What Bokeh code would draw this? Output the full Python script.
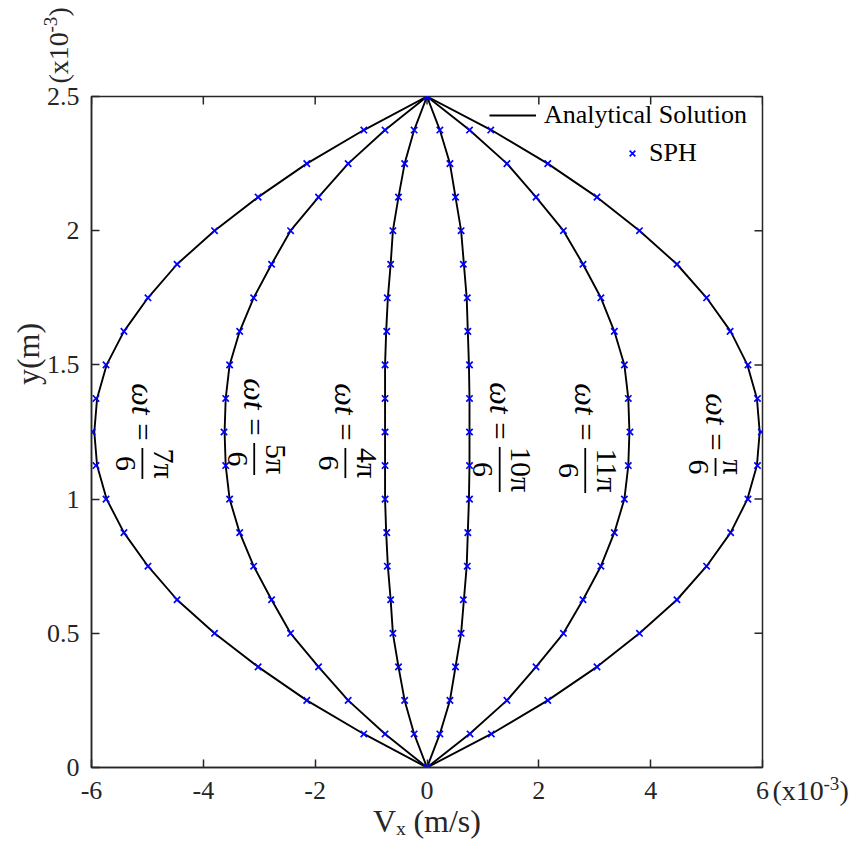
import numpy as np
from bokeh.plotting import figure
from bokeh.models import (Range1d, FixedTicker, Label, Legend,
                          LegendItem, CustomJSTickFormatter)
from bokeh.embed import file_html
from bokeh.resources import INLINE

# ---------------------------------------------------------------------------
# Data: velocity profiles across the channel (y in 1e-3 m, Vx in 1e-3 m/s)
# ---------------------------------------------------------------------------
y_nodes = [0.0, 0.125, 0.25, 0.375, 0.5, 0.625, 0.75, 0.875, 1.0, 1.125, 1.25,
           1.375, 1.5, 1.625, 1.75, 1.875, 2.0, 2.125, 2.25, 2.375, 2.5]

phases = ["π/6", "4π/6", "5π/6", "7π/6", "10π/6", "11π/6"]

# analytical solution
ana_pi6 = [0, 1.15, 2.16, 3.04, 3.80, 4.47, 5.00, 5.43, 5.73, 5.90, 5.95,
           5.90, 5.73, 5.43, 5.00, 4.47, 3.80, 3.04, 2.16, 1.15, 0]
ana_4pi6 = [0, -0.23, -0.40, -0.51, -0.61, -0.65, -0.70, -0.73, -0.75, -0.75, -0.75,
            -0.75, -0.75, -0.73, -0.70, -0.65, -0.61, -0.51, -0.40, -0.23, 0]
ana_5pi6 = [0, -0.75, -1.41, -1.94, -2.44, -2.78, -3.10, -3.35, -3.53, -3.60, -3.62,
            -3.60, -3.53, -3.35, -3.10, -2.78, -2.44, -1.94, -1.41, -0.75, 0]
ana_7pi6 = [0, -1.13, -2.15, -3.02, -3.80, -4.47, -4.99, -5.42, -5.73, -5.90, -5.95,
            -5.90, -5.73, -5.42, -4.99, -4.47, -3.80, -3.02, -2.15, -1.13, 0]
ana_10pi6 = [0, 0.23, 0.41, 0.51, 0.61, 0.66, 0.71, 0.73, 0.75, 0.76, 0.76,
             0.76, 0.75, 0.73, 0.71, 0.66, 0.61, 0.51, 0.41, 0.23, 0]
ana_11pi6 = [0, 0.76, 1.43, 1.95, 2.44, 2.79, 3.11, 3.35, 3.53, 3.60, 3.62,
             3.60, 3.53, 3.35, 3.11, 2.79, 2.44, 1.95, 1.43, 0.76, 0]

# SPH particles
sph_pi6 = [0, 1.15, 2.16, 3.04, 3.80, 4.47, 5.00, 5.43, 5.74, 5.91, 5.98,
           5.91, 5.74, 5.42, 5.00, 4.47, 3.80, 3.04, 2.16, 1.14, 0]
sph_4pi6 = [0, -0.23, -0.40, -0.51, -0.61, -0.65, -0.71, -0.72, -0.75, -0.75, -0.75,
            -0.75, -0.75, -0.72, -0.71, -0.65, -0.61, -0.51, -0.40, -0.23, 0]
sph_5pi6 = [0, -0.75, -1.41, -1.94, -2.44, -2.78, -3.10, -3.35, -3.53, -3.60, -3.63,
            -3.60, -3.53, -3.35, -3.10, -2.78, -2.44, -1.94, -1.41, -0.75, 0]
sph_7pi6 = [0, -1.13, -2.15, -3.02, -3.80, -4.47, -4.99, -5.42, -5.74, -5.92, -5.99,
            -5.92, -5.74, -5.42, -4.99, -4.47, -3.80, -3.02, -2.15, -1.13, 0]
sph_10pi6 = [0, 0.23, 0.41, 0.51, 0.61, 0.65, 0.72, 0.73, 0.76, 0.76, 0.76,
             0.76, 0.76, 0.73, 0.72, 0.65, 0.61, 0.51, 0.41, 0.23, 0]
sph_11pi6 = [0, 0.77, 1.43, 1.95, 2.44, 2.79, 3.11, 3.35, 3.53, 3.60, 3.63,
             3.60, 3.53, 3.35, 3.11, 2.79, 2.44, 1.95, 1.43, 0.76, 0]

analytical = [ana_pi6, ana_4pi6, ana_5pi6, ana_7pi6, ana_10pi6, ana_11pi6]
sph = [sph_pi6, sph_4pi6, sph_5pi6, sph_7pi6, sph_10pi6, sph_11pi6]

x_ticks = [-6, -4, -2, 0, 2, 4, 6]
y_ticks = [0, 0.5, 1, 1.5, 2, 2.5]

# ---------------------------------------------------------------------------
FONT = "Liberation Serif"
AXIS_GREY = "#262626"
FRAME_W, FRAME_H = 671, 671
X_MIN, X_MAX = -6, 6
Y_MIN, Y_MAX = 0, 2.5
PX_PER_X = FRAME_W / (X_MAX - X_MIN)
PX_PER_Y = FRAME_H / (Y_MAX - Y_MIN)
TICK_LEN = 8

p = figure(frame_width=FRAME_W, frame_height=FRAME_H,
           x_range=Range1d(X_MIN, X_MAX), y_range=Range1d(Y_MIN, Y_MAX),
           output_backend="svg", toolbar_location=None,
           min_border_left=91, min_border_right=96,
           min_border_top=96, min_border_bottom=85)
p.grid.visible = False
p.background_fill_color = "white"
p.border_fill_color = "white"
p.outline_line_color = AXIS_GREY
p.outline_line_width = 1.5

fmt = CustomJSTickFormatter(code="return tick.toString();")
for ax, ticks in ((p.xaxis[0], x_ticks), (p.yaxis[0], y_ticks)):
    ax.ticker = FixedTicker(ticks=ticks)
    ax.formatter = fmt
    ax.axis_line_color = AXIS_GREY
    ax.axis_line_width = 1.5
    ax.major_tick_line_color = AXIS_GREY
    ax.major_tick_line_width = 1.5
    ax.major_tick_in = TICK_LEN
    ax.major_tick_out = 0
    ax.minor_tick_line_color = None
    ax.major_label_text_font = FONT
    ax.major_label_text_font_size = "26px"
    ax.major_label_text_color = AXIS_GREY
    ax.major_label_standoff = 12
    ax.axis_label_text_font = FONT
    ax.axis_label_text_font_style = "normal"
    ax.axis_label_text_font_size = "32px"
    ax.axis_label_text_color = AXIS_GREY

p.xaxis.major_label_standoff = 14
p.xaxis.axis_label = "Vₓ (m/s)"
p.xaxis.axis_label_standoff = 1

# mirrored inward ticks on the top and right edges of the box
p.segment(x0=x_ticks, x1=x_ticks, y0=[Y_MAX] * len(x_ticks),
          y1=[Y_MAX - TICK_LEN / PX_PER_Y] * len(x_ticks),
          line_color=AXIS_GREY, line_width=1.5)
p.segment(x0=[X_MAX] * len(y_ticks), x1=[X_MAX - TICK_LEN / PX_PER_X] * len(y_ticks),
          y0=y_ticks, y1=y_ticks, line_color=AXIS_GREY, line_width=1.5)

# ---------------------------------------------------------------------------
# Profiles
line_renderers = []
for vals in analytical:
    line_renderers.append(p.line(x=vals, y=y_nodes, line_color="black", line_width=1.9))
sph_renderers = []
for vals in sph:
    sph_renderers.append(p.scatter(x=vals, y=y_nodes, marker="x", size=9,
                                   line_color="#0000ff", line_width=1.7))

# ---------------------------------------------------------------------------
# Legend (two single-entry legends, as in the original layout)
leg_common = dict(border_line_color=None, background_fill_alpha=0, padding=0,
                  margin=0, spacing=0, glyph_height=30, label_height=30,
                  label_text_font=FONT, label_text_font_size="26px",
                  label_text_color="black")
leg1 = Legend(items=[LegendItem(label="Analytical Solution", renderers=[line_renderers[0]])],
              location=(398, 637), glyph_width=47, label_standoff=8, **leg_common)
leg2 = Legend(items=[LegendItem(label="SPH", renderers=[sph_renderers[0]])],
              location=(531, 599), glyph_width=20, label_standoff=7, **leg_common)
p.add_layout(leg1)
p.add_layout(leg2)

# ---------------------------------------------------------------------------
# Phase annotations, written vertically: "ωt = N/6"
label_specs = [
    # (x centre, offset of "ωt" from channel centre in px, numerator, fraction bar length px)
    (5.16, -23, "π", 18),
    (2.83, -33, "11π", 45),
    (1.30, -34, "10π", 45),
    (-1.46, -33, "4π", 30),
    (-3.09, -38, "5π", 32),
    (-5.09, -33, "7π", 31),
]
for cx, dy, num, bar in label_specs:
    base = dict(x=cx, y=1.25, angle=-np.pi / 2, text_font=FONT,
                text_color="black", text_align="center", text_baseline="middle")
    p.add_layout(Label(text="ωt", text_font_style="italic", text_font_size="32px",
                       x_offset=1, y_offset=-dy, **base))
    p.add_layout(Label(text="=", text_font_size="31px", x_offset=0,
                       y_offset=-(dy + 33), **base))
    start = dy + 49
    mid = start + bar / 2
    p.add_layout(Label(text=num, text_font_size="30px",
                       x_offset=18 if num == "π" else 22, y_offset=-mid, **base))
    p.add_layout(Label(text="6", text_font_size="30px", x_offset=-17,
                       y_offset=-mid, **base))
    p.segment(x0=[cx], x1=[cx], y0=[1.25 - start / PX_PER_Y],
              y1=[1.25 - (start + bar) / PX_PER_Y], line_color="black", line_width=1.8)

# ---------------------------------------------------------------------------
# Texts outside the frame live in the side panels
txt = dict(text_font=FONT, text_color=AXIS_GREY, text_baseline="middle")

# y-axis title
p.add_layout(Label(x=X_MIN, y=1.25, x_offset=-64, y_offset=78, angle=np.pi / 2,
                   text="y(m)", text_font_size="32px", text_align="center", **txt),
             "left")

# exponent, bottom right (on the tick-label line)
p.add_layout(Label(x=X_MAX, y=Y_MIN, x_offset=10, y_offset=-23, text="(x10",
                   text_font_size="28px", **txt), "right")
p.add_layout(Label(x=X_MAX, y=Y_MIN, x_offset=61, y_offset=-16, text="-3",
                   text_font_size="19px", **txt), "right")
p.add_layout(Label(x=X_MAX, y=Y_MIN, x_offset=77, y_offset=-23, text=")",
                   text_font_size="28px", **txt), "right")

# exponent, top left (rotated)
p.add_layout(Label(x=X_MIN, y=Y_MAX, x_offset=-33, y_offset=13, angle=np.pi / 2,
                   text="(x10", text_font_size="28px", **txt), "above")
p.add_layout(Label(x=X_MIN, y=Y_MAX, x_offset=-41, y_offset=64, angle=np.pi / 2,
                   text="-3", text_font_size="19px", **txt), "above")
p.add_layout(Label(x=X_MIN, y=Y_MAX, x_offset=-33, y_offset=80, angle=np.pi / 2,
                   text=")", text_font_size="28px", **txt), "above")

open("out.html", "w").write(file_html(p, INLINE))
